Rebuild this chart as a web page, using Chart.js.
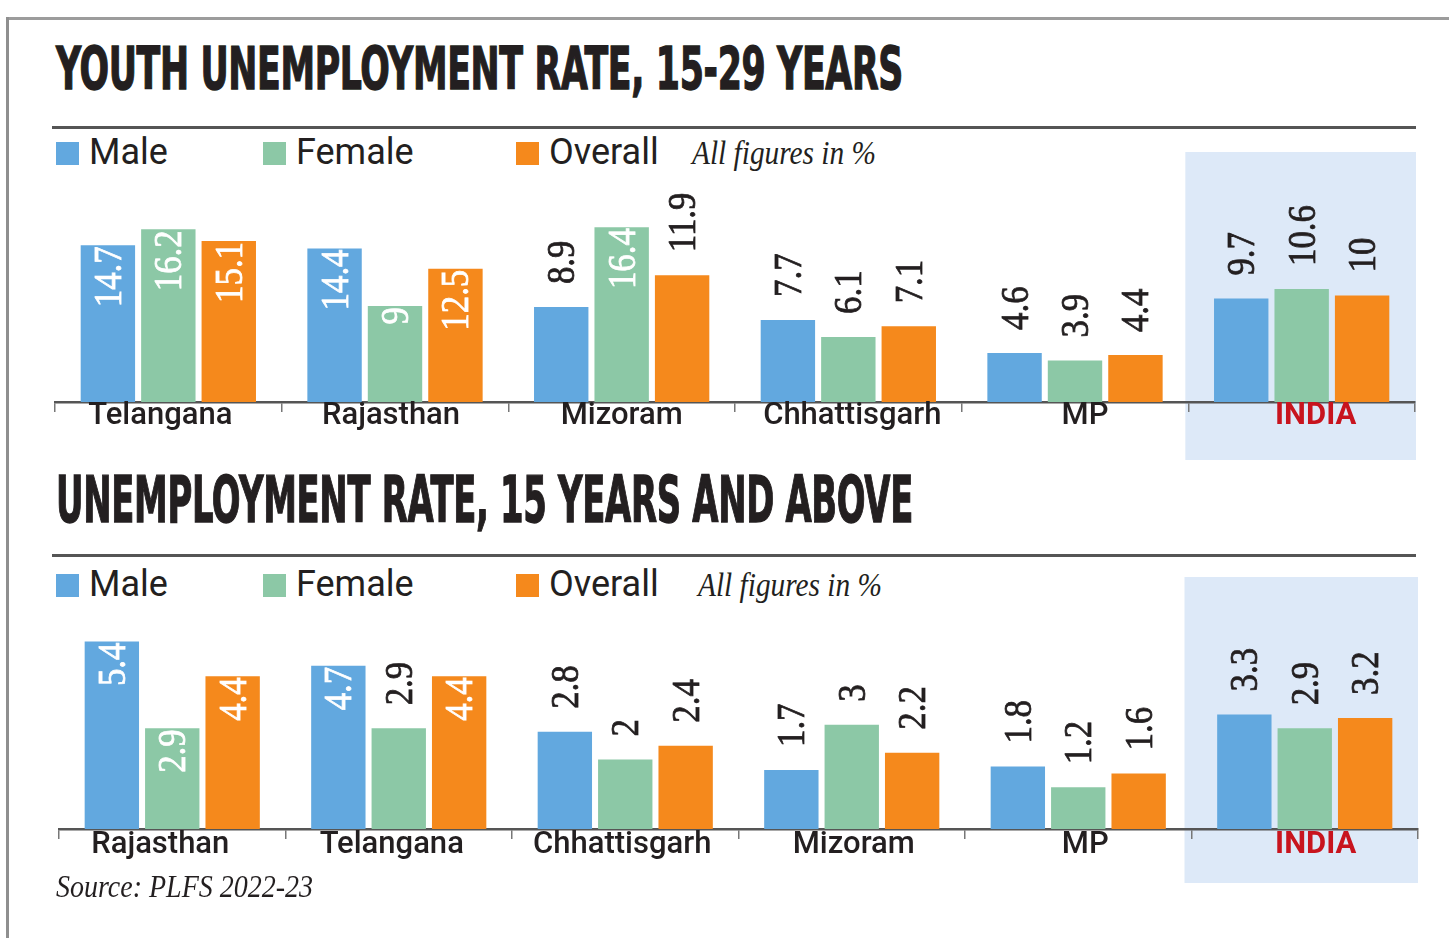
<!DOCTYPE html>
<html>
<head>
<meta charset="utf-8">
<script src="https://cdn.jsdelivr.net/npm/chart.js@4.4.1/dist/chart.umd.min.js"></script>
<style>
  body { margin: 0; background: #fff; }
  #page { position: relative; width: 1449px; height: 938px; overflow: hidden; background: #fff; color: #231f20; }
  .abs { position: absolute; white-space: nowrap; }
  .frameTop { left: 8px; top: 17px; width: 1441px; height: 3px; background: #9c9c9c; }
  .frameLeft { left: 6px; top: 17px; width: 3px; height: 921px; background: #8f8f8f; }
  .title { font-family: "Liberation Sans Narrow", "DejaVu Sans Condensed", sans-serif; font-weight: 700; line-height: 1; transform-origin: left top; display: inline-block; letter-spacing: -0.5px; -webkit-text-stroke: 1.3px #231f20; }
  .rule { left: 52px; width: 1364px; height: 3px; background: #555; }
  .legItem { font-family: Roboto, sans-serif; font-size: 36px; line-height: 1; }
  .swatch { width: 23px; height: 23px; }
  .note { font-family: "Liberation Serif", serif; font-style: italic; font-size: 33px; line-height: 1; transform-origin: left top; display: inline-block; }
  canvas { position: absolute; left: 0; }
</style>
</head>
<body>
<div id="page">
  <div class="abs frameTop"></div>
  <div class="abs frameLeft"></div>

  <div class="abs title" id="title1" style="left:56px; top:40px; font-size:58px;">YOUTH UNEMPLOYMENT RATE, 15-29 YEARS</div>
  <div class="abs rule" style="top:126px;"></div>
  <div id="legend1"></div>
  <div class="abs note" id="note1" style="left:692px; top:137px;">All figures in %</div>
  <canvas id="chart1" width="1449" height="320" style="top:140px;"></canvas>

  <div class="abs title" id="title2" style="left:56px; top:468px; font-size:64px;">UNEMPLOYMENT RATE, 15 YEARS AND ABOVE</div>
  <div class="abs rule" style="top:554px;"></div>
  <div id="legend2"></div>
  <div class="abs note" id="note2" style="left:698px; top:569px;">All figures in %</div>
  <canvas id="chart2" width="1449" height="320" style="top:565px;"></canvas>

  <div class="abs note" id="source" style="left:56px; top:870px; font-size:32px;">Source: PLFS 2022-23</div>
</div>

<script>
// youth (15-29) data
var youthStates = ["Telangana", "Rajasthan", "Mizoram", "Chhattisgarh", "MP", "INDIA"];
var youthMale = [14.7, 14.4, 8.9, 7.7, 4.6, 9.7];
var youthFemale = [16.2, 9, 16.4, 6.1, 3.9, 10.6];
var youthOverall = [15.1, 12.5, 11.9, 7.1, 4.4, 10];

// 15 years and above
var allStates = ["Rajasthan", "Telangana", "Chhattisgarh", "Mizoram", "MP", "INDIA"];
var allMale = [5.4, 4.7, 2.8, 1.7, 1.8, 3.3];
var allFemale = [2.9, 2.9, 2, 3, 1.2, 2.9];
var allOverall = [4.4, 4.4, 2.4, 2.2, 1.6, 3.2];

var seriesNames = ["Male", "Female", "Overall"];
var seriesColors = ["#62a8df", "#8cc8a6", "#f5891c"];

const DARK = "#231f20";
const INDIA_RED = "#c8141e";

function fitWidth(id, w) {
  const el = document.getElementById(id);
  const r = el.getBoundingClientRect().width;
  el.style.transform = "scaleX(" + (w / r) + ")";
}

function renderLegend(id, top) {
  const box = document.getElementById(id);
  const xs = [56, 263, 516];
  for (let i = 0; i < seriesNames.length; i++) {
    const sw = document.createElement("div");
    sw.className = "abs swatch";
    sw.style.left = xs[i] + "px";
    sw.style.top = (top + 8) + "px";
    sw.style.background = seriesColors[i];
    box.appendChild(sw);
    const t = document.createElement("div");
    t.className = "abs legItem";
    t.style.left = (xs[i] + 33) + "px";
    t.style.top = top + "px";
    t.textContent = seriesNames[i];
    box.appendChild(t);
  }
}

// light blue panel behind the INDIA group
const highlightPlugin = {
  id: "highlight",
  beforeDraw(chart, args, opts) {
    const ctx = chart.ctx;
    const x = chart.scales.x;
    const idx = chart.data.labels.indexOf(opts.label);
    const half = (x.getPixelForValue(1) - x.getPixelForValue(0)) / 2;
    const left = x.getPixelForValue(idx) - half - opts.extraLeft;
    const right = chart.chartArea.right + opts.extraRight;
    ctx.save();
    ctx.fillStyle = opts.color;
    ctx.fillRect(left, opts.top, right - left, opts.bottom - opts.top);
    ctx.restore();
  }
};

// rotated value labels, white inside the bar or dark above it
const valueLabelPlugin = {
  id: "valueLabels",
  afterDatasetsDraw(chart, args, opts) {
    const ctx = chart.ctx;
    chart.data.datasets.forEach(function (ds, di) {
      chart.getDatasetMeta(di).data.forEach(function (bar, i) {
        const cat = chart.data.labels[i];
        const inside = opts.inside.indexOf(cat) >= 0 || opts.inside.indexOf(cat + "|" + ds.label) >= 0;
        const txt = String(ds.data[i]);
        ctx.save();
        ctx.translate(bar.x + 13, inside ? bar.y + 1 : bar.y - 23);
        ctx.rotate(-Math.PI / 2);
        ctx.scale(0.87, 1);
        ctx.font = '40px "Liberation Serif", serif';
        ctx.fillStyle = inside ? "#ffffff" : DARK;
        ctx.strokeStyle = ctx.fillStyle;
        ctx.lineWidth = 0.8;
        ctx.textAlign = inside ? "right" : "left";
        ctx.textBaseline = "alphabetic";
        ctx.fillText(txt, 0, 0);
        ctx.strokeText(txt, 0, 0);
        ctx.restore();
      });
    });
  }
};

// category names sit right on the axis line, so draw them ourselves
const categoryLabelPlugin = {
  id: "catLabels",
  afterDatasetsDraw(chart, args, opts) {
    const ctx = chart.ctx;
    const x = chart.scales.x;
    const y = chart.chartArea.bottom + opts.baseline;
    ctx.save();
    ctx.textAlign = "center";
    ctx.textBaseline = "alphabetic";
    chart.data.labels.forEach(function (lab, i) {
      const india = lab === "INDIA";
      ctx.font = (india ? "bold " : "500 ") + "31px Roboto, sans-serif";
      ctx.fillStyle = india ? INDIA_RED : DARK;
      ctx.fillText(lab, x.getPixelForValue(i) + (opts.nudge[i] || 0), y);
    });
    ctx.restore();
  }
};

function makeChart(canvasId, labels, male, female, overall, cfg) {
  const values = [male, female, overall];
  const datasets = seriesNames.map(function (name, i) {
    return {
      label: name,
      data: values[i],
      backgroundColor: seriesColors[i],
      borderWidth: 0,
      barPercentage: 0.9,
      categoryPercentage: 0.8
    };
  });

  return new Chart(document.getElementById(canvasId), {
    type: "bar",
    data: { labels: labels, datasets: datasets },
    options: {
      responsive: false,
      animation: false,
      devicePixelRatio: 1,
      layout: { padding: cfg.padding },
      plugins: {
        legend: { display: false },
        tooltip: { enabled: false },
        highlight: { label: "INDIA", color: "#dde9f8", top: 12, bottom: cfg.boxBottom, extraLeft: cfg.boxLeft, extraRight: cfg.boxRight },
        valueLabels: { inside: cfg.inside },
        catLabels: { baseline: cfg.labelBase, nudge: cfg.nudge }
      },
      scales: {
        y: { display: false, min: 0, max: cfg.max },
        x: {
          afterFit: function (scale) { scale.height = 40; },
          border: { color: "#555", width: 2.5 },
          grid: { offset: true, drawOnChartArea: false, drawTicks: true, tickLength: 10, color: "#777", lineWidth: 1.5 },
          ticks: { display: false, autoSkip: false, maxRotation: 0 }
        }
      }
    },
    plugins: [highlightPlugin, valueLabelPlugin, categoryLabelPlugin]
  });
}

renderLegend("legend1", 134);
renderLegend("legend2", 566);

makeChart("chart1", youthStates, youthMale, youthFemale, youthOverall, {
  padding: { left: 55, right: 34, top: 20, bottom: 18 },
  max: 22.7,
  boxBottom: 320,
  boxLeft: 3,
  boxRight: 1,
  labelBase: 22,
  nudge: [-8, -4, 0, 4, 10, 14],
  inside: ["Telangana", "Rajasthan", "Mizoram|Female"]
});

makeChart("chart2", allStates, allMale, allFemale, allOverall, {
  padding: { left: 59, right: 31, top: 20, bottom: 16 },
  max: 7.03,
  boxBottom: 318,
  boxLeft: 7,
  boxRight: 0,
  labelBase: 24,
  nudge: [-12, -7, -3, 2, 7, 11],
  inside: ["Rajasthan", "Telangana|Male", "Telangana|Overall"]
});

fitWidth("title1", 847);
fitWidth("title2", 857);
fitWidth("note1", 184);
fitWidth("note2", 184);
fitWidth("source", 257);
</script>
</body>
</html>
